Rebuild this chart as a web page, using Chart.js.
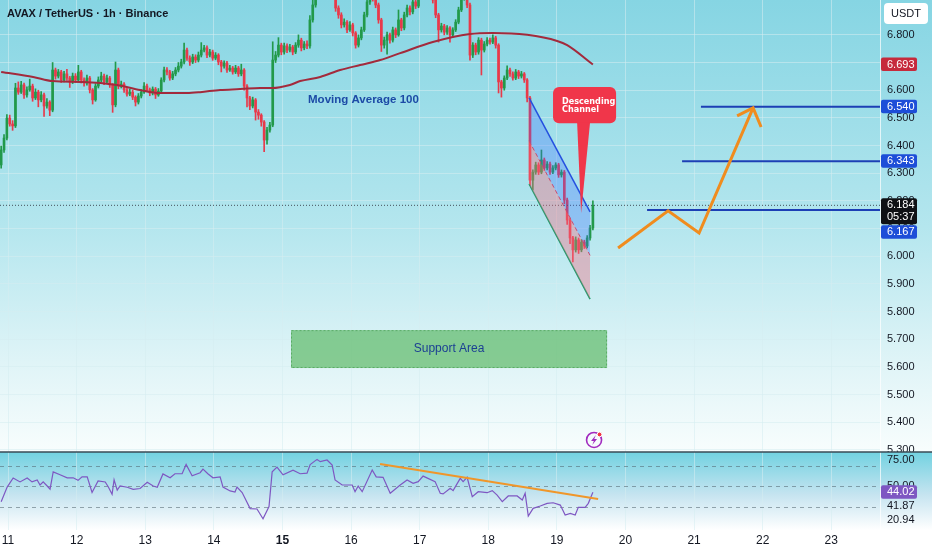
<!DOCTYPE html>
<html>
<head>
<meta charset="utf-8">
<title>AVAX / TetherUS 1h</title>
<script src="https://cdn.jsdelivr.net/npm/chart.js@4.4.1/dist/chart.umd.min.js"></script>
<style>
  html, body { margin: 0; padding: 0; background: #fff; }
  #wrap { width: 932px; height: 550px; position: relative; }
</style>
</head>
<body>
<div id="wrap"><canvas id="chart"></canvas></div>
<script>
// hourly candles, the first one sits at day 10.9
const startDay = 10.9
const firstOpen = 6.330

const closes = [
  6.384, 6.427, 6.499, 6.478, 6.471, 6.608, 6.593, 6.619, 6.583, 6.601,
  6.615, 6.572, 6.593, 6.565, 6.583, 6.543, 6.557, 6.528, 6.673, 6.651,
  6.666, 6.637, 6.659, 6.644, 6.630, 6.651, 6.637, 6.666, 6.637, 6.626,
  6.644, 6.601, 6.565, 6.615, 6.637, 6.651, 6.630, 6.644, 6.619, 6.547,
  6.673, 6.615, 6.622, 6.601, 6.586, 6.593, 6.575, 6.557, 6.579, 6.593,
  6.615, 6.601, 6.590, 6.604, 6.583, 6.597, 6.637, 6.673, 6.666, 6.644,
  6.659, 6.673, 6.687, 6.702, 6.745, 6.716, 6.702, 6.720, 6.709, 6.727,
  6.745, 6.753, 6.727, 6.738, 6.716, 6.727, 6.702, 6.687, 6.698, 6.673,
  6.680, 6.666, 6.680, 6.659, 6.673, 6.615, 6.572, 6.543, 6.565, 6.521,
  6.510, 6.485, 6.420, 6.456, 6.474, 6.709, 6.727, 6.763, 6.738, 6.760,
  6.745, 6.756, 6.738, 6.763, 6.781, 6.753, 6.767, 6.760, 6.854, 6.908,
  6.962, 6.944, 6.980, 6.955, 6.998, 6.969, 6.944, 6.897, 6.872, 6.836,
  6.846, 6.818, 6.836, 6.807, 6.763, 6.789, 6.818, 6.872, 6.919, 6.944,
  6.933, 6.908, 6.854, 6.763, 6.781, 6.800, 6.781, 6.818, 6.800, 6.854,
  6.825, 6.872, 6.897, 6.883, 6.919, 6.904, 6.944, 6.962, 6.948, 6.980,
  6.955, 6.926, 6.872, 6.818, 6.832, 6.810, 6.825, 6.800, 6.818, 6.846,
  6.890, 6.933, 6.955, 6.908, 6.727, 6.763, 6.738, 6.781, 6.745, 6.767,
  6.781, 6.774, 6.789, 6.763, 6.630, 6.608, 6.644, 6.673, 6.659, 6.644,
  6.666, 6.651, 6.659, 6.637, 6.572, 6.275, 6.304, 6.330, 6.304, 6.348,
  6.319, 6.333, 6.304, 6.319, 6.330, 6.294, 6.304, 6.203, 6.131, 6.066,
  6.023, 6.059, 6.023, 6.051, 6.037, 6.066, 6.102, 6.184
]
const highs = [
  6.398, 6.440, 6.512, 6.510, 6.490, 6.625, 6.630, 6.632, 6.626, 6.612,
  6.640, 6.622, 6.605, 6.600, 6.595, 6.590, 6.570, 6.562, 6.700, 6.680,
  6.675, 6.672, 6.668, 6.675, 6.650, 6.662, 6.660, 6.690, 6.672, 6.645,
  6.655, 6.650, 6.606, 6.624, 6.648, 6.665, 6.658, 6.655, 6.650, 6.624,
  6.702, 6.680, 6.633, 6.628, 6.610, 6.604, 6.600, 6.580, 6.588, 6.602,
  6.628, 6.622, 6.608, 6.612, 6.610, 6.606, 6.645, 6.684, 6.682, 6.672,
  6.668, 6.682, 6.700, 6.712, 6.770, 6.752, 6.724, 6.730, 6.728, 6.738,
  6.772, 6.762, 6.760, 6.748, 6.745, 6.736, 6.732, 6.708, 6.706, 6.704,
  6.690, 6.686, 6.690, 6.686, 6.694, 6.678, 6.620, 6.578, 6.575, 6.570,
  6.530, 6.515, 6.490, 6.466, 6.484, 6.775, 6.740, 6.790, 6.770, 6.770,
  6.768, 6.766, 6.762, 6.772, 6.800, 6.788, 6.776, 6.778, 6.870, 6.925,
  6.985, 6.975, 6.995, 6.990, 7.015, 7.005, 6.978, 6.950, 6.905, 6.880,
  6.858, 6.852, 6.848, 6.842, 6.812, 6.800, 6.828, 6.882, 6.930, 6.960,
  6.955, 6.940, 6.915, 6.860, 6.792, 6.810, 6.806, 6.828, 6.825, 6.890,
  6.860, 6.882, 6.908, 6.905, 6.930, 6.926, 6.958, 6.975, 6.970, 6.995,
  6.988, 6.962, 6.932, 6.878, 6.842, 6.838, 6.834, 6.830, 6.826, 6.855,
  6.900, 6.945, 6.970, 6.962, 6.915, 6.772, 6.770, 6.790, 6.788, 6.776,
  6.790, 6.788, 6.800, 6.795, 6.768, 6.636, 6.652, 6.688, 6.680, 6.666,
  6.675, 6.672, 6.668, 6.664, 6.642, 6.578, 6.312, 6.340, 6.338, 6.384,
  6.355, 6.342, 6.340, 6.328, 6.338, 6.336, 6.312, 6.310, 6.210, 6.138,
  6.072, 6.070, 6.066, 6.060, 6.058, 6.075, 6.112, 6.200
]
const lows = [
  6.318, 6.375, 6.420, 6.470, 6.455, 6.465, 6.585, 6.588, 6.570, 6.575,
  6.596, 6.560, 6.566, 6.540, 6.558, 6.505, 6.535, 6.508, 6.522, 6.640,
  6.644, 6.628, 6.630, 6.635, 6.610, 6.624, 6.628, 6.630, 6.626, 6.615,
  6.618, 6.590, 6.550, 6.560, 6.608, 6.630, 6.620, 6.624, 6.610, 6.520,
  6.540, 6.605, 6.608, 6.592, 6.578, 6.580, 6.566, 6.543, 6.550, 6.572,
  6.588, 6.594, 6.580, 6.583, 6.570, 6.578, 6.590, 6.630, 6.655, 6.636,
  6.638, 6.652, 6.666, 6.680, 6.695, 6.708, 6.690, 6.696, 6.700, 6.702,
  6.720, 6.738, 6.718, 6.720, 6.708, 6.710, 6.692, 6.666, 6.680, 6.664,
  6.668, 6.658, 6.660, 6.650, 6.652, 6.600, 6.540, 6.530, 6.536, 6.492,
  6.495, 6.470, 6.378, 6.405, 6.448, 6.468, 6.700, 6.720, 6.728, 6.730,
  6.736, 6.738, 6.728, 6.732, 6.755, 6.742, 6.746, 6.750, 6.752, 6.846,
  6.900, 6.930, 6.936, 6.945, 6.948, 6.958, 6.932, 6.885, 6.860, 6.825,
  6.828, 6.808, 6.812, 6.796, 6.752, 6.756, 6.782, 6.812, 6.865, 6.910,
  6.922, 6.898, 6.842, 6.740, 6.752, 6.730, 6.770, 6.774, 6.790, 6.795,
  6.815, 6.818, 6.865, 6.872, 6.876, 6.895, 6.898, 6.936, 6.938, 6.940,
  6.945, 6.915, 6.862, 6.774, 6.810, 6.800, 6.802, 6.774, 6.792, 6.812,
  6.840, 6.884, 6.925, 6.898, 6.709, 6.718, 6.728, 6.730, 6.655, 6.738,
  6.760, 6.766, 6.768, 6.752, 6.590, 6.575, 6.600, 6.638, 6.650, 6.636,
  6.638, 6.642, 6.644, 6.628, 6.558, 6.255, 6.240, 6.296, 6.295, 6.298,
  6.310, 6.312, 6.296, 6.298, 6.312, 6.285, 6.286, 6.190, 6.115, 6.045,
  5.979, 6.015, 6.010, 6.016, 6.028, 6.030, 6.058, 6.095
]

// MA 100, read at a few hours along the curve
const maHours = [0, 11.2, 18, 28.7, 40.5, 48.6, 55.6, 65, 69.6, 76.6, 83.6, 90.6, 94.8, 101, 104.6,
  111.6, 118.6, 125.6, 132.6, 139.6, 151, 164, 172, 184, 194.5, 198, 207]
const maValues = [6.666, 6.648, 6.633, 6.630, 6.619, 6.601, 6.590, 6.590, 6.593, 6.601, 6.604, 6.608, 6.608, 6.619, 6.633,
  6.648, 6.673, 6.691, 6.709, 6.734, 6.774, 6.803, 6.807, 6.800, 6.778, 6.763, 6.693]

// RSI pane
const rsiHours = [0, 2.1, 4.2, 6.6, 9.1, 10.8, 12.6, 13.6, 14.7, 16.1, 17.1, 18.2, 20.6, 23.1, 25.2,
  26.9, 28.3, 30.1, 31.8, 33.9, 36.4, 37.5, 38.8, 39.5, 40.6, 41.6, 44.1, 46.2, 48.6, 51.1,
  53.2, 54.6, 56.6, 59.1, 60.8, 63.3, 64.7, 66.8, 69.6, 70.6, 72.4, 74.1, 76.6, 77.6, 80.1,
  81.8, 82.5, 84.3, 87.1, 89.5, 91.6, 93.7, 94.8, 96.5, 98.6, 102.1, 104.6, 107, 108.1, 110.5,
  111.6, 114, 115.8, 116.8, 119.3, 122.8, 123.8, 124.9, 126.3, 129.8, 131.2, 133.6, 136.1, 139.6, 142,
  144.1, 145.9, 147.6, 151.8, 153.6, 154.6, 157.1, 158.1, 160.6, 161.6, 163, 164.8, 166.9, 170, 171.8,
  173.5, 175.3, 177.4, 180.5, 182.3, 183.3, 184.4, 186.1, 188.6, 191, 193.1, 195.6, 197.3, 199.1, 200.8,
  201.9, 204.3, 205.4, 207]
const rsiValues = [34.7, 49, 57.8, 54, 57.8, 54, 56, 51, 54, 50, 47, 63.8, 61, 58, 58,
  55.5, 59, 59, 43.7, 55, 54, 49, 42, 56, 46, 50, 48.8, 46.7, 47.6, 53.6,
  50, 48.8, 61.8, 58, 62, 62, 71, 60, 63, 66.5, 61.8, 58, 59, 49, 45.2,
  44.2, 49, 43.6, 28, 27.6, 18, 30, 63.8, 68.5, 61, 65.5, 62, 62.5, 71, 76,
  73.8, 75.4, 70.5, 55.9, 51, 51, 44.5, 50, 44.5, 65.6, 59, 58.5, 42.9, 51, 55.9,
  52.6, 54.3, 59.7, 54.3, 42.9, 42.3, 47.7, 45.5, 57.5, 54.3, 58.5, 39.6, 44.5, 43.5, 45.5,
  41.2, 34.7, 40.3, 40.3, 36.4, 42.9, 20.7, 28.2, 30.5, 33.1, 33.7, 31.4, 21.7, 23.3, 21.7,
  29.2, 29.2, 33.1, 44.02]

const dayTicks = [11, 12, 13, 14, 15, 16, 17, 18, 19, 20, 21, 22, 23]
const priceTicks = [5.3, 5.4, 5.5, 5.6, 5.7, 5.8, 5.9, 6.0, 6.1, 6.2, 6.3, 6.4, 6.5, 6.6, 6.7, 6.8]
const rsiTicks = [75, 50]
const rsiBands = [70, 50, 30]

const lastPrice = 6.184
const countdown = '05:37'
const maLast = 6.693
const rsiLast = 44.02
const rsiExtra = [41.87, 20.94]

// drawings on the chart (day, price)
const channelDays = [18.595, 19.484]
const channelUpper = [6.572, 6.160]
const channelMid = [6.417, 6.003]
const channelLower = [6.261, 5.845]
const projDays = [19.892, 20.621, 21.073, 21.860]
const projPrices = [6.030, 6.164, 6.084, 6.536]
const arrowDays = [21.627, 21.860, 21.977]
const arrowPrices = [6.507, 6.536, 6.467]
const targetPrices = [6.540, 6.343, 6.167]
const targetStarts = [21.10, 20.825, 20.315]
const rsiTrendDays = [16.423, 19.601]
const rsiTrendValues = [71.4, 37.3]
const supportDays = [15.125, 19.732]
const supportRange = [5.596, 5.733]

const xMin = 10.883, xMax = 23.71
const up = '#22994a', down = '#e8394a'
const axisFont = '"Liberation Sans", Arial, sans-serif'
const gridColor = 'rgba(214,236,240,0.55)'

const toDay = h => startDay + h / 24
const opens = closes.map((c, i) => i === 0 ? firstOpen : closes[i - 1])
const candleColor = ctx => closes[ctx.dataIndex] >= opens[ctx.dataIndex] ? up : down
const seg = (days, vals) => days.map((d, i) => ({ x: d, y: vals[i] }))
const flat = (a, b, v) => [{ x: a, y: v }, { x: b, y: v }]

function priceTag(ctx, left, top, lines, bg) {
  const h = 12.5 * lines.length + 1
  ctx.fillStyle = bg
  ctx.beginPath()
  ctx.roundRect(left, top, 36, h, 2)
  ctx.fill()
  ctx.fillStyle = '#fff'
  ctx.font = '11px ' + axisFont
  ctx.textAlign = 'left'
  ctx.textBaseline = 'middle'
  lines.forEach((s, i) => ctx.fillText(s, left + 6, top + 7 + i * 12))
  return top + h
}

function rsiGradient(ctx, rsi) {
  const g = ctx.createLinearGradient(0, rsi.top, 0, rsi.bottom)
  g.addColorStop(0, '#72d2e1')
  g.addColorStop(0.55, '#c6e4f0')
  g.addColorStop(1, '#ffffff')
  return g
}

const panes = {
  id: 'panes',
  beforeDraw(chart) {
    const { ctx, width, height, scales: { y, rsi } } = chart
    ctx.save()
    ctx.fillStyle = '#fff'
    ctx.fillRect(0, 0, width, height)
    const g = ctx.createLinearGradient(0, y.top, 0, y.bottom)
    g.addColorStop(0, '#86d5e3')
    g.addColorStop(0.5, '#b4e6ee')
    g.addColorStop(0.8, '#dff4f7')
    g.addColorStop(1, '#f8fdfd')
    ctx.fillStyle = g
    ctx.fillRect(0, y.top, width, y.bottom - y.top)
    ctx.fillStyle = rsiGradient(ctx, rsi)
    ctx.fillRect(0, rsi.top, width, rsi.bottom - rsi.top)
    ctx.restore()
  },
  beforeDatasetsDraw(chart) {
    const { ctx, chartArea, scales: { x, y, rsi } } = chart
    ctx.save()
    const l = x.getPixelForValue(supportDays[0]), r = x.getPixelForValue(supportDays[1])
    const t = y.getPixelForValue(supportRange[1]), b = y.getPixelForValue(supportRange[0])
    ctx.fillStyle = 'rgba(84,182,92,0.65)'
    ctx.fillRect(l, t, r - l, b - t)
    ctx.strokeStyle = 'rgba(60,150,70,0.6)'
    ctx.setLineDash([2, 2])
    ctx.strokeRect(l + 0.5, t + 0.5, r - l - 1, b - t - 1)
    ctx.fillStyle = '#1b3f93'
    ctx.font = '12px ' + axisFont
    ctx.textAlign = 'center'
    ctx.textBaseline = 'middle'
    ctx.fillText('Support Area', (l + r) / 2, (t + b) / 2)

    ctx.strokeStyle = 'rgba(80,100,110,0.55)'
    ctx.setLineDash([4, 4])
    ctx.lineWidth = 1
    rsiBands.forEach(v => {
      const py = Math.round(rsi.getPixelForValue(v)) + 0.5
      ctx.beginPath()
      ctx.moveTo(chartArea.left, py)
      ctx.lineTo(chartArea.right, py)
      ctx.stroke()
    })
    ctx.restore()
  },
  afterDatasetsDraw(chart) {
    const { ctx, scales: { x, y } } = chart
    ctx.save()
    ctx.fillStyle = '#1c4aa6'
    ctx.font = 'bold 11.5px ' + axisFont
    ctx.textAlign = 'left'
    ctx.textBaseline = 'middle'
    ctx.fillText('Moving Average 100', x.getPixelForValue(15.373), y.getPixelForValue(6.565))

    // "Descending Channel" callout
    const bl = x.getPixelForValue(18.944), br = x.getPixelForValue(19.863)
    const bt = y.getPixelForValue(6.612), bb = y.getPixelForValue(6.481)
    ctx.fillStyle = '#f0364a'
    ctx.beginPath()
    ctx.roundRect(bl, bt, br - bl, bb - bt, 6)
    ctx.fill()
    ctx.beginPath()
    ctx.moveTo(x.getPixelForValue(19.295), bb - 1)
    ctx.lineTo(x.getPixelForValue(19.353), y.getPixelForValue(6.156))
    ctx.lineTo(x.getPixelForValue(19.484), bb - 1)
    ctx.closePath()
    ctx.fill()
    ctx.fillStyle = '#fff'
    ctx.font = 'bold 9px "Liberation Sans Narrow", "DejaVu Sans Condensed", Arial, sans-serif'
    ctx.fillText('Descending', bl + 9, bt + 15)
    ctx.fillText('Channel', bl + 9, bt + 23)

    // lightning icon
    const ix = x.getPixelForValue(19.542), iy = y.getPixelForValue(5.336)
    ctx.strokeStyle = '#a12bbf'
    ctx.lineWidth = 1.6
    ctx.beginPath()
    ctx.arc(ix, iy, 7.5, 0, Math.PI * 2)
    ctx.stroke()
    ctx.fillStyle = '#a12bbf'
    ctx.beginPath()
    ctx.moveTo(ix + 1.8, iy - 5)
    ctx.lineTo(ix - 3, iy + 1)
    ctx.lineTo(ix - 0.2, iy + 1)
    ctx.lineTo(ix - 1.8, iy + 5)
    ctx.lineTo(ix + 3, iy - 1)
    ctx.lineTo(ix + 0.2, iy - 1)
    ctx.closePath()
    ctx.fill()
    ctx.fillStyle = '#f23645'
    ctx.strokeStyle = '#fff'
    ctx.lineWidth = 1
    ctx.beginPath()
    ctx.arc(ix + 5.5, iy - 5.5, 2.4, 0, Math.PI * 2)
    ctx.fill()
    ctx.stroke()
    ctx.restore()
  },
  afterDraw(chart) {
    const { ctx, width, chartArea, scales: { y, rsi } } = chart
    ctx.save()
    // the lowest price label is cut by the pane border
    ctx.fillStyle = rsiGradient(ctx, rsi)
    ctx.fillRect(chartArea.right + 1, y.bottom, width - chartArea.right, 3)

    ctx.strokeStyle = 'rgba(255,255,255,0.7)'
    ctx.lineWidth = 1
    ctx.beginPath()
    ctx.moveTo(chartArea.right + 0.5, chartArea.top)
    ctx.lineTo(chartArea.right + 0.5, chartArea.bottom)
    ctx.stroke()
    ctx.strokeStyle = '#3a4a55'
    ctx.lineWidth = 1.5
    ctx.beginPath()
    ctx.moveTo(0, y.bottom)
    ctx.lineTo(width, y.bottom)
    ctx.stroke()

    const left = chartArea.right + 1
    priceTag(ctx, left, y.getPixelForValue(maLast) - 7, [maLast.toFixed(3)], '#c62a3c')
    priceTag(ctx, left, y.getPixelForValue(targetPrices[0]) - 7, [targetPrices[0].toFixed(3)], '#1d4ed8')
    priceTag(ctx, left, y.getPixelForValue(targetPrices[1]) - 7, [targetPrices[1].toFixed(3)], '#1d4ed8')
    const nextTop = priceTag(ctx, left, y.getPixelForValue(lastPrice) - 7, [lastPrice.toFixed(3), countdown], '#0f1115')
    priceTag(ctx, left, Math.max(nextTop + 1, y.getPixelForValue(targetPrices[2]) - 7), [targetPrices[2].toFixed(3)], '#1d4ed8')

    let bottom = priceTag(ctx, left, rsi.getPixelForValue(rsiLast) - 7, [rsiLast.toFixed(2)], '#7e57c2')
    ctx.fillStyle = '#131722'
    rsiExtra.forEach(v => {
      const cy = Math.max(rsi.getPixelForValue(v), bottom + 7)
      ctx.fillText(v.toFixed(2), left + 6, cy)
      bottom = cy + 7
    })

    ctx.fillStyle = '#fff'
    ctx.beginPath()
    ctx.roundRect(884, 3, 44, 21, 4)
    ctx.fill()
    ctx.fillStyle = '#131722'
    ctx.font = '11px ' + axisFont
    ctx.textAlign = 'center'
    ctx.fillText('USDT', 906, 14)

    ctx.textAlign = 'left'
    ctx.font = 'bold 11px ' + axisFont
    ctx.fillText('AVAX / TetherUS \u00b7 1h \u00b7 Binance', 7, 14)
    ctx.restore()
  }
}

const noPad = s => { s.paddingTop = 0; s.paddingBottom = 0; s.paddingLeft = 0; s.paddingRight = 0 }

new Chart(document.getElementById('chart'), {
  type: 'bar',
  plugins: [panes],
  data: {
    datasets: [
      {
        type: 'line', yAxisID: 'rsi', order: 1,
        data: seg(rsiTrendDays, rsiTrendValues),
        borderColor: '#f0962a', borderWidth: 2, pointRadius: 0
      },
      {
        type: 'line', yAxisID: 'rsi', order: 2,
        data: rsiHours.map((h, i) => ({ x: toDay(h), y: rsiValues[i] })),
        borderColor: '#7e57c2', borderWidth: 1.2, pointRadius: 0
      },
      {
        type: 'line', order: 1, data: seg(projDays, projPrices),
        borderColor: '#f08c1e', borderWidth: 3, pointRadius: 0, borderJoinStyle: 'miter'
      },
      {
        type: 'line', order: 1, data: seg(arrowDays, arrowPrices),
        borderColor: '#f08c1e', borderWidth: 3, pointRadius: 0
      },
      ...targetPrices.map((p, i) => ({
        type: 'line', order: 2, data: flat(targetStarts[i], xMax, p),
        borderColor: '#1c3fb5', borderWidth: 2, pointRadius: 0
      })),
      {
        type: 'line', order: 3, data: seg(channelDays, channelUpper),
        borderColor: '#2450e0', borderWidth: 1.5, pointRadius: 0,
        fill: '+1', backgroundColor: 'rgba(60,110,255,0.3)'
      },
      {
        type: 'line', order: 3, data: seg(channelDays, channelMid),
        borderColor: '#e0455a', borderWidth: 1, borderDash: [4, 3], pointRadius: 0,
        fill: '+1', backgroundColor: 'rgba(242,110,130,0.4)'
      },
      {
        type: 'line', order: 3, data: seg(channelDays, channelLower),
        borderColor: '#199b6a', borderWidth: 1.5, pointRadius: 0
      },
      {
        type: 'line', order: 7, data: flat(xMin, xMax, lastPrice),
        borderColor: '#44505a', borderWidth: 1, borderDash: [1, 2], pointRadius: 0
      },
      {
        type: 'line', order: 8,
        data: maHours.map((h, i) => ({ x: toDay(h), y: maValues[i] })),
        borderColor: '#a32a3c', borderWidth: 2, pointRadius: 0, cubicInterpolationMode: 'monotone'
      },
      {
        order: 9,
        data: closes.map((c, i) => ({ x: toDay(i), y: [opens[i], c] })),
        backgroundColor: candleColor, barThickness: 2, minBarLength: 1, grouped: false, borderWidth: 0
      },
      {
        order: 10,
        data: closes.map((c, i) => ({ x: toDay(i), y: [lows[i], highs[i]] })),
        backgroundColor: candleColor, barThickness: 1, grouped: false, borderWidth: 0
      }
    ]
  },
  options: {
    responsive: true,
    maintainAspectRatio: false,
    animation: false,
    events: [],
    layout: { padding: 0 },
    plugins: { legend: { display: false }, tooltip: { enabled: false } },
    scales: {
      x: {
        type: 'linear', min: xMin, max: xMax, offset: false,
        afterBuildTicks: s => { s.ticks = dayTicks.map(v => ({ value: v })) },
        grid: { color: gridColor, drawTicks: false, offset: false },
        border: { display: false },
        ticks: {
          padding: 3, color: '#131722', maxRotation: 0, autoSkip: false,
          font: c => ({ family: axisFont, size: 12, weight: c.tick && c.tick.value === 15 ? 'bold' : 'normal' }),
          callback: v => String(v)
        },
        afterFit: s => { s.height = 20; noPad(s) }
      },
      y: {
        position: 'right', stack: 'pane', stackWeight: 452,
        min: 5.2925, max: 6.926,
        afterBuildTicks: s => { s.ticks = priceTicks.map(v => ({ value: v })) },
        grid: { color: gridColor, drawTicks: false },
        border: { display: false },
        ticks: { padding: 7, color: '#131722', autoSkip: false, font: { family: axisFont, size: 11 }, callback: v => v.toFixed(3) },
        afterFit: s => { s.width = 52; noPad(s) }
      },
      rsi: {
        position: 'right', stack: 'pane', stackWeight: 78,
        min: 7.1, max: 83.2,
        afterBuildTicks: s => { s.ticks = rsiTicks.map(v => ({ value: v })) },
        grid: { display: false, drawTicks: false },
        border: { display: false },
        ticks: { padding: 7, color: '#131722', autoSkip: false, font: { family: axisFont, size: 11 }, callback: v => v.toFixed(2) },
        afterFit: s => { s.width = 52; noPad(s) }
      }
    }
  }
})
</script>
</body>
</html>
